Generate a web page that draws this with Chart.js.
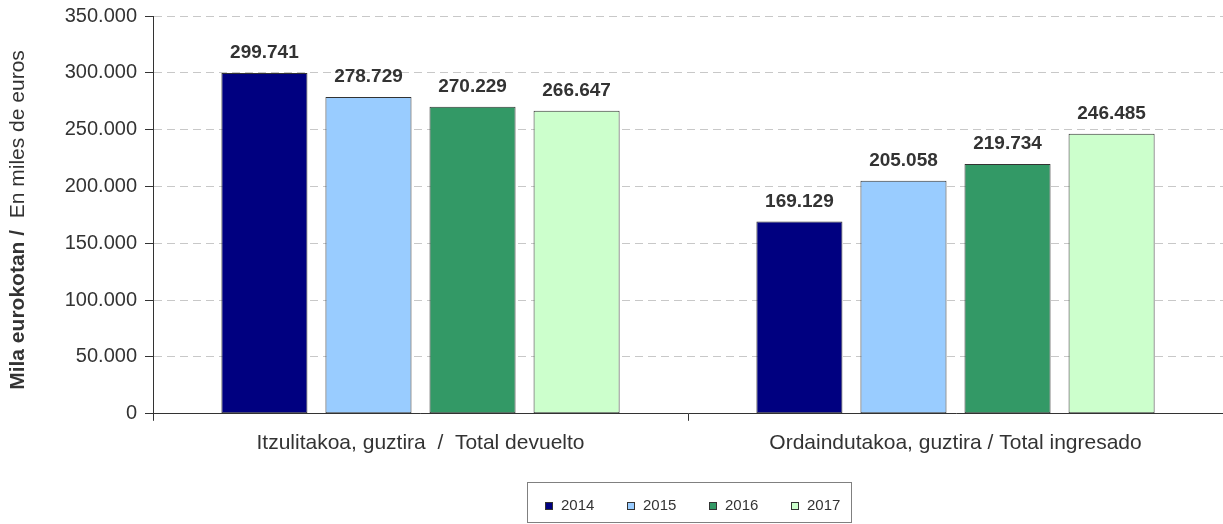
<!DOCTYPE html>
<html>
<head>
<meta charset="utf-8">
<script src="https://cdn.jsdelivr.net/npm/chart.js@4"></script>
<style>
  html, body { margin: 0; padding: 0; background: #fff; }
  #wrap { width: 1223px; height: 524px; }
</style>
</head>
<body>
<div id="wrap"><canvas id="chart"></canvas></div>
<script>
//************ Datos */
const categories = ['Itzulitakoa, guztira  /  Total devuelto', 'Ordaindutakoa, guztira / Total ingresado'];
const years = ['2014', '2015', '2016', '2017'];
const values2014 = [299741, 169129];
const values2015 = [278729, 205058];
const values2016 = [270229, 219734];
const values2017 = [266647, 246485];
const yearColors = ['#000080', '#99CCFF', '#339966', '#CCFFCC'];

const FONT = "'Liberation Sans', Arial, sans-serif";
const TXT = '#333333';

function fmt(v) {
    return String(Math.round(v)).replace(/\B(?=(\d{3})+(?!\d))/g, '.');
}

// --Etiquetas encima de las barras
const valueLabels = {
    id: 'valueLabels',
    afterDatasetsDraw(chart) {
        const ctx = chart.ctx;
        ctx.save();
        ctx.font = 'bold 19px ' + FONT;
        ctx.fillStyle = TXT;
        ctx.textAlign = 'center';
        ctx.textBaseline = 'alphabetic';
        chart.data.datasets.forEach((ds, i) => {
            chart.getDatasetMeta(i).data.forEach((bar, j) => {
                ctx.fillText(fmt(ds.data[j]), bar.x, bar.y - 15);
            });
        });
        ctx.restore();
    }
};

// --Titulo eje Y (parte en negrita) y leyenda con marco
const extras = {
    id: 'extras',
    afterDraw(chart) {
        const ctx = chart.ctx;
        ctx.save();
        // titulo
        const boldPart = 'Mila eurokotan / ';
        const normPart = ' En miles de euros';
        ctx.translate(18, 220);
        ctx.rotate(-Math.PI / 2);
        ctx.textBaseline = 'middle';
        ctx.textAlign = 'left';
        ctx.font = 'bold 21px ' + FONT;
        const wb = ctx.measureText(boldPart).width;
        ctx.font = '21px ' + FONT;
        const wn = ctx.measureText(normPart).width;
        let x0 = -(wb + wn) / 2;
        ctx.fillStyle = TXT;
        ctx.font = 'bold 21px ' + FONT;
        ctx.fillText(boldPart, x0, 0);
        ctx.font = '21px ' + FONT;
        ctx.fillText(normPart, x0 + wb, 0);
        ctx.restore();

        // leyenda
        ctx.save();
        const bx = 527, by = 482, bw = 324, bh = 40;
        ctx.strokeStyle = '#808080';
        ctx.lineWidth = 1;
        ctx.strokeRect(bx + 0.5, by + 0.5, bw, bh);
        ctx.font = '15px ' + FONT;
        ctx.textBaseline = 'middle';
        ctx.textAlign = 'left';
        const cy = 506;
        chart.data.datasets.forEach((ds, i) => {
            const lx = 545 + i * 82;
            ctx.fillStyle = ds.backgroundColor;
            ctx.fillRect(lx, cy - 4, 8, 8);
            ctx.strokeStyle = '#333';
            ctx.strokeRect(lx + 0.5, cy - 3.5, 7, 7);
            ctx.fillStyle = TXT;
            ctx.fillText(ds.label, lx + 16, cy);
        });
        ctx.restore();
    }
};

const seriesValues = [values2014, values2015, values2016, values2017];

const datasets = years.map((y, i) => ({
    label: y,
    data: seriesValues[i],
    backgroundColor: yearColors[i],
    borderColor: '#333333',
    borderWidth: 1,
    borderSkipped: false,
    categoryPercentage: 0.778,
    barPercentage: 0.827
}));

const config = {
    type: 'bar',
    data: { labels: categories, datasets: datasets },
    options: {
        responsive: true,
        maintainAspectRatio: false,
        animation: false,
        layout: { padding: { top: 16, right: 0, bottom: 58, left: 0 } },
        plugins: {
            legend: { display: false },
            tooltip: { enabled: false }
        },
        scales: {
            x: {
                grid: {
                    display: true,
                    drawOnChartArea: false,
                    drawTicks: true,
                    tickLength: 7,
                    tickColor: '#333333',
                    offset: true
                },
                border: { display: true, color: '#333333' },
                ticks: {
                    color: TXT,
                    font: { family: FONT, size: 21 },
                    padding: 10,
                    maxRotation: 0
                }
            },
            y: {
                min: 0,
                max: 350000,
                afterFit: (scale) => { scale.width = 153; scale.paddingTop = 0; },
                grid: {
                    color: '#c8c8c8',
                    tickLength: 8,
                    tickColor: '#333333',
                    tickBorderDash: []
                },
                border: { display: true, color: '#333333', dash: [8, 5] },
                ticks: {
                    stepSize: 50000,
                    color: TXT,
                    padding: 8,
                    font: { family: FONT, size: 20, lineHeight: 1 },
                    callback: (v) => fmt(v)
                }
            }
        }
    },
    plugins: [valueLabels, extras]
};

var myChart = new Chart(document.getElementById('chart').getContext('2d'), config);
</script>
</body>
</html>
